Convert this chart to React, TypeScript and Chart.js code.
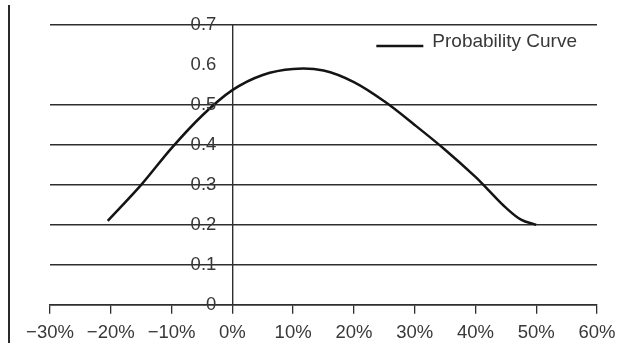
import React, { useEffect, useRef } from 'react';
import { Chart, registerables } from 'chart.js';

Chart.register(...registerables);

// Expected return (%) and the probability
const returnPct = [-20.5, -15, -10, -5, 0, 5, 10, 15, 20, 25, 30, 35, 40, 42.5, 45, 47.5, 50];
const probability = [0.21, 0.3, 0.392, 0.473, 0.537, 0.575, 0.59, 0.586, 0.557, 0.509, 0.45, 0.388, 0.32, 0.281, 0.243, 0.213, 0.2];

const xTickValues = [-30, -20, -10, 0, 10, 20, 30, 40, 50, 60];
const yTickValues = [0, 0.1, 0.2, 0.3, 0.4, 0.5, 0.6, 0.7];
// horizontal rules are drawn at these levels only
const yRuleValues = [0, 0.1, 0.2, 0.3, 0.4, 0.5, 0.7];

const seriesLabel = 'Probability Curve';

const FONT = '"Liberation Sans", Arial, Helvetica, sans-serif';
const TEXT = '#383838';
const RULE = '#2e2e2e';
const CURVE = '#141414';

const fmtPct = (v: number) => `${v < 0 ? '\u2212' : ''}${Math.abs(v)}%`;
const fmtProb = (v: number) => (v === 0 ? '0' : v.toFixed(1));

// y labels sit to the left of the vertical axis drawn at 0%
const yLabelPlugin = {
  id: 'yLabelsAtZero',
  afterDatasetsDraw(chart: any) {
    const { ctx, scales } = chart;
    const xs = scales.x;
    const ys = scales.y;
    const right = xs.getPixelForValue(0) - 16;
    ctx.save();
    ctx.font = `18.5px ${FONT}`;
    ctx.fillStyle = TEXT;
    ctx.textAlign = 'right';
    ctx.textBaseline = 'middle';
    yTickValues.forEach((v) => {
      ctx.fillText(fmtProb(v), right, ys.getPixelForValue(v));
    });
    ctx.restore();
  },
};

// legend entry inside the plot, top right
const legendPlugin = {
  id: 'innerLegend',
  afterDraw(chart: any) {
    const { ctx, chartArea } = chart;
    const ds = chart.data.datasets[0];
    ctx.save();
    ctx.font = `19px ${FONT}`;
    const w = ctx.measureText(ds.label).width;
    const textLeft = chartArea.right - 20 - w;
    const lineY = chartArea.top + 21;
    ctx.strokeStyle = ds.borderColor;
    ctx.lineWidth = ds.borderWidth;
    ctx.beginPath();
    ctx.moveTo(textLeft - 56, lineY);
    ctx.lineTo(textLeft - 9, lineY);
    ctx.stroke();
    ctx.fillStyle = TEXT;
    ctx.textAlign = 'left';
    ctx.textBaseline = 'middle';
    ctx.fillText(ds.label, textLeft, chartArea.top + 17);
    ctx.restore();
  },
};

export default function App() {
  const ref = useRef<HTMLCanvasElement | null>(null);

  useEffect(() => {
    if (!ref.current) return;
    const chart = new Chart(ref.current, {
      type: 'line',
      data: {
        datasets: [
          {
            label: seriesLabel,
            data: returnPct.map((x, i) => ({ x, y: probability[i] })),
            borderColor: CURVE,
            borderWidth: 2.5,
            pointRadius: 0,
            fill: false,
            tension: 0.35,
          },
        ],
      },
      options: {
        animation: false,
        responsive: false,
        layout: { padding: { left: 50, right: 37, top: 25, bottom: -6 } },
        plugins: {
          legend: { display: false },
          tooltip: { enabled: false },
        },
        scales: {
          x: {
            type: 'linear',
            position: 'bottom',
            min: -30,
            max: 60,
            afterBuildTicks: (s: any) => {
              s.ticks = xTickValues.map((value) => ({ value }));
            },
            ticks: {
              callback: (v: any) => fmtPct(Number(v)),
              font: { family: FONT, size: 18.5 },
              color: TEXT,
              padding: 8,
              maxRotation: 0,
              autoSkip: false,
            },
            grid: {
              drawOnChartArea: false,
              drawTicks: true,
              tickLength: 9,
              color: RULE,
              lineWidth: 1.3,
            },
            border: { display: true, color: RULE, width: 1.5 },
          },
          y: {
            type: 'linear',
            position: { x: 0 } as any,
            min: 0,
            max: 0.7,
            afterBuildTicks: (s: any) => {
              s.ticks = yTickValues.map((value) => ({ value }));
            },
            ticks: { display: false },
            grid: {
              drawTicks: false,
              lineWidth: 1.4,
              color: (c: any) =>
                yRuleValues.some((r) => Math.abs(r - c.tick.value) < 1e-6) ? RULE : 'rgba(0,0,0,0)',
            },
            border: { display: true, color: RULE, width: 1.4 },
          },
        },
      } as any,
      plugins: [yLabelPlugin, legendPlugin],
    });
    return () => chart.destroy();
  }, []);

  return (
    <div style={{ position: 'fixed', left: 0, top: 0, width: 634, height: 346, background: '#fff' }}>
      <div
        style={{
          position: 'absolute',
          left: 8,
          top: 5,
          height: 338,
          width: 0,
          borderLeft: '2px solid #2a2a2a',
        }}
      />
      <canvas ref={ref} width={634} height={346} style={{ position: 'absolute', left: 0, top: 0, display: 'block' }} />
    </div>
  );
}
